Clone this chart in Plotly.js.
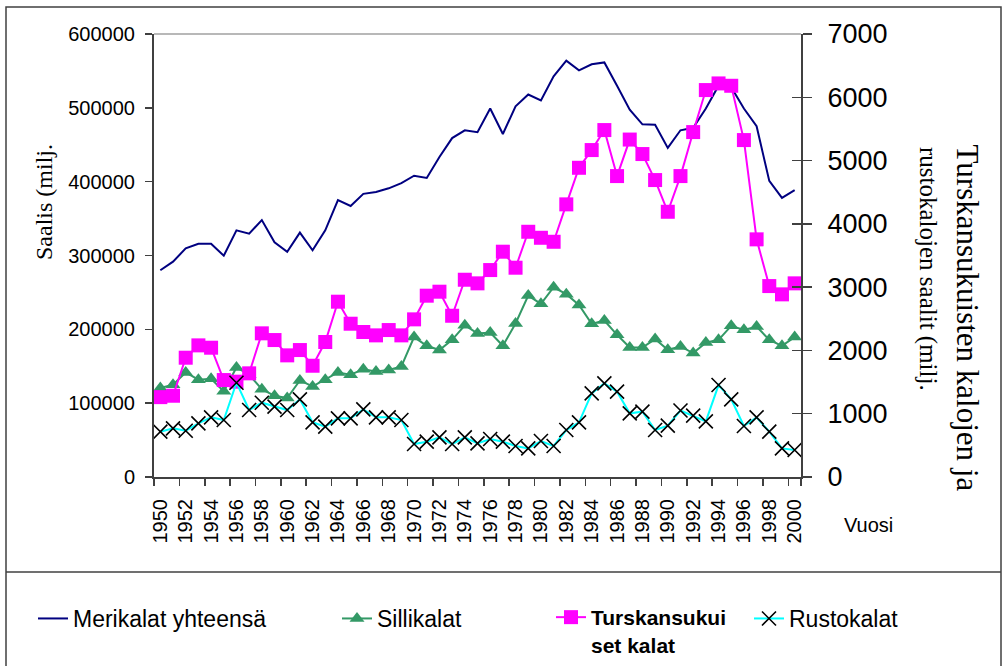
<!DOCTYPE html>
<html>
<head>
<meta charset="utf-8">
<script src="https://cdn.plot.ly/plotly-3.0.1.min.js"></script>
<style>html,body{margin:0;padding:0;background:#fff;}#chart{width:1003px;height:666px;}</style>
</head>
<body>
<div id="chart"></div>
<script>
const years = [1950,1951,1952,1953,1954,1955,1956,1957,1958,1959,1960,1961,1962,1963,1964,1965,1966,1967,1968,1969,1970,1971,1972,1973,1974,1975,1976,1977,1978,1979,1980,1981,1982,1983,1984,1985,1986,1987,1988,1989,1990,1991,1992,1993,1994,1995,1996,1997,1998,1999,2000];
const merikalat = [280000,291600,309700,316000,316000,299700,334000,329500,348000,318000,305000,331000,307000,334000,375000,367000,383500,386000,391000,398000,408000,405000,433500,459000,469600,467000,499000,464600,502000,518000,510000,542600,563800,550700,559000,561500,530000,497500,477700,477000,445700,469600,473000,499000,530000,528000,499000,475000,401000,378000,388500];
const sillikalat = [120500,125000,141600,131800,133000,116000,148400,138500,119000,110000,107000,130800,122700,131800,141600,138500,146000,143000,145000,149700,189500,177700,172000,185800,205500,194500,195700,177700,208000,245700,234500,257000,247600,233000,207400,212000,192600,175400,175400,186800,172300,176800,167800,182000,185800,204700,199300,203800,185800,177700,189500];
const turskansukuiset = [1262,1284,1885,2080,2043,1532,1506,1638,2270,2164,1922,2006,1758,2133,2770,2422,2291,2238,2322,2238,2491,2865,2928,2548,3117,3060,3270,3560,3307,3875,3780,3717,4308,4886,5166,5482,4755,5332,5103,4692,4191,4755,5450,6114,6219,6182,5324,3755,3017,2886,3060];
const rustokalat = [716,769,731,848,943,900,1490,1058,1174,1111,1058,1227,864,795,927,927,1069,943,943,900,521,558,627,521,627,532,600,558,490,452,569,490,742,864,1322,1480,1348,1006,1032,742,811,1050,970,880,1453,1227,806,943,716,452,427];
const seriesNames = ['Merikalat yhteensä','Sillikalat','<b>Turskansukui<br>set kalat</b>','Rustokalat'];
const tickYears = years.filter(y => y % 2 === 0);
const boundaryTicks = years.filter(y => y % 2 === 0).map(y => y - 0.5).concat([years[years.length-1] + 0.5]);

const W = 1003, H = 666;
const M = {l:154, r:202, t:34, b:189, autoexpand: false};
const pw = W - M.l - M.r, ph = H - M.t - M.b;
const px = v => (v - M.l) / pw;
const py = v => (H - M.b - v) / ph;
const cx = v => v / W;
const cy = v => 1 - v / H;

const axisColor = '#404040';
const sans = 'Liberation Sans, Arial, sans-serif';
const serif = 'Liberation Serif, Times New Roman, serif';

const traces = [
  {x: years, y: merikalat, name: seriesNames[0], type: 'scatter', mode: 'lines',
   line: {color: '#000080', width: 2}, legend: 'legend'},
  {x: years, y: sillikalat, name: seriesNames[1], type: 'scatter', mode: 'lines+markers',
   line: {color: '#339966', width: 2}, marker: {symbol: 'triangle-up', size: 13, color: '#339966'}, legend: 'legend2'},
  {x: years, y: turskansukuiset, name: seriesNames[2], type: 'scatter', mode: 'lines+markers', yaxis: 'y2',
   line: {color: '#ff00ff', width: 2}, marker: {symbol: 'square', size: 14, color: '#ff00ff'}, legend: 'legend3'},
  {x: years, y: rustokalat, name: seriesNames[3], type: 'scatter', mode: 'lines+markers', yaxis: 'y2',
   line: {color: '#00ffff', width: 2}, marker: {symbol: 'x-thin', size: 14, color: '#000000', line: {color: '#000000', width: 1.6}}, legend: 'legend4'},
  {x: [], y: [], yaxis: 'y3', showlegend: false, hoverinfo: 'skip', type: 'scatter', mode: 'lines'}
];

const legendBase = (x, fontSize) => ({
  x: cx(x), y: cy(597), xref: 'container', yref: 'container', xanchor: 'left', yanchor: 'top', orientation: 'v',
  bgcolor: 'rgba(0,0,0,0)', borderwidth: 0, valign: 'top',
  font: {family: sans, size: fontSize, color: '#000'}
});

const layout = {
  width: W, height: H,
  margin: M,
  paper_bgcolor: '#fff', plot_bgcolor: '#fff',
  showlegend: true,
  xaxis: {
    range: [1949.5, 2000.5], tickmode: 'array', tickvals: tickYears, ticktext: tickYears.map(String),
    ticks: '', tickangle: -90, ticklabelstandoff: 12, automargin: false,
    tickfont: {family: sans, size: 20, color: '#000'},
    showline: true, linecolor: axisColor, linewidth: 2, showgrid: false, zeroline: false,
    minor: {tickmode: 'array', tickvals: boundaryTicks, ticks: 'outside', ticklen: 7, tickwidth: 1.5, tickcolor: axisColor, showgrid: false}
  },
  yaxis: {
    range: [0, 600000], dtick: 100000, tick0: 0, tickformat: 'd', automargin: false,
    ticks: 'outside', ticklen: 7, tickwidth: 1.5, tickcolor: axisColor, ticklabelstandoff: 6,
    tickfont: {family: sans, size: 20, color: '#000'},
    showline: true, linecolor: axisColor, linewidth: 2, showgrid: false, zeroline: false
  },
  yaxis2: {
    range: [0, 7000], dtick: 1000, tick0: 0, tickformat: 'd', overlaying: 'y', side: 'right', automargin: false,
    ticks: 'outside', ticklen: 9, tickwidth: 1.5, tickcolor: axisColor, ticklabelstandoff: 10,
    tickfont: {family: sans, size: 27, color: '#000'},
    showline: true, linecolor: axisColor, linewidth: 2, showgrid: false, zeroline: false
  },
  yaxis3: {
    range: [0, 7000], dtick: 1000, tick0: 0, overlaying: 'y', side: 'right', anchor: 'x', automargin: false,
    ticks: 'inside', ticklen: 9, tickwidth: 1.5, tickcolor: axisColor, showticklabels: false,
    showline: false, showgrid: false, zeroline: false
  },
  legend: legendBase(33, 23),
  legend2: legendBase(337, 23),
  legend3: legendBase(551, 21),
  legend4: legendBase(749, 23),
  shapes: [
    {type: 'line', xref: 'paper', yref: 'paper', x0: 0, x1: 1, y0: 1, y1: 1, line: {color: '#a0a0a0', width: 1.5}},
    {type: 'rect', xref: 'paper', yref: 'paper', x0: px(6), x1: px(1001), y0: py(7), y1: py(670), line: {color: axisColor, width: 1.5}},
    {type: 'line', xref: 'paper', yref: 'paper', x0: px(6), x1: px(1001), y0: py(572), y1: py(572), line: {color: axisColor, width: 1.5}}
  ],
  annotations: [
    {text: 'Saalis (milj.', xref: 'paper', yref: 'paper', x: px(44), y: py(202), xanchor: 'center', yanchor: 'middle',
     textangle: -90, showarrow: false, font: {family: serif, size: 24, color: '#000'}},
    {text: 'Turskansukuisten kalojen ja', xref: 'paper', yref: 'paper', x: px(967), y: py(142), xanchor: 'center', yanchor: 'top',
     textangle: 90, showarrow: false, font: {family: serif, size: 31, color: '#000'}},
    {text: 'rustokalojen saalit (milj.', xref: 'paper', yref: 'paper', x: px(928), y: py(145), xanchor: 'center', yanchor: 'top',
     textangle: 90, showarrow: false, font: {family: serif, size: 25, color: '#000'}},
    {text: 'Vuosi', xref: 'paper', yref: 'paper', x: px(868), y: py(525), xanchor: 'center', yanchor: 'middle',
     showarrow: false, font: {family: sans, size: 20, color: '#000'}}
  ]
};

Plotly.newPlot('chart', traces, layout, {displayModeBar: false, staticPlot: true});
</script>
</body>
</html>
